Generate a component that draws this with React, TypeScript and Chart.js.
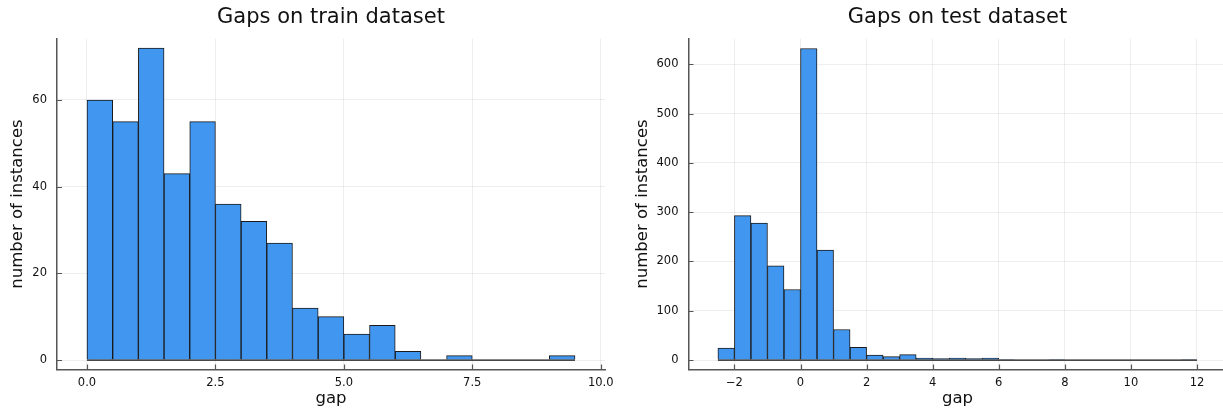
import React, { useEffect, useRef } from "react";
import { Chart, registerables } from "chart.js";

Chart.register(...registerables);

// ---------- data ----------
const binWidth = 0.5;

const trainBinStarts = [0, 0.5, 1, 1.5, 2, 2.5, 3, 3.5, 4, 4.5, 5, 5.5, 6, 6.5, 7, 7.5, 8, 8.5, 9];
const trainCounts = [60, 55, 72, 43, 55, 36, 32, 27, 12, 10, 6, 8, 2, 0, 1, 0, 0, 0, 1];
const trainXTicks = [0, 2.5, 5, 7.5, 10];
const trainXTickLabels = ["0.0", "2.5", "5.0", "7.5", "10.0"];
const trainYTicks = [0, 20, 40, 60];
const trainYTickLabels = ["0", "20", "40", "60"];

const testBinStarts = [
  -2.5, -2, -1.5, -1, -0.5, 0, 0.5, 1, 1.5, 2, 2.5, 3, 3.5, 4, 4.5, 5, 5.5, 6, 6.5, 7, 7.5, 8, 8.5, 9, 9.5,
  10, 10.5, 11, 11.5,
];
const testCounts = [
  24, 293, 278, 191, 143, 632, 223, 62, 26, 10, 7, 11, 4, 3, 4, 3, 4, 1, 0, 0, 1, 0, 0, 0, 0, 0, 0, 0, 1,
];
const testXTicks = [-2, 0, 2, 4, 6, 8, 10, 12];
const testXTickLabels = ["\u22122", "0", "2", "4", "6", "8", "10", "12"];
const testYTicks = [0, 100, 200, 300, 400, 500, 600];
const testYTickLabels = ["0", "100", "200", "300", "400", "500", "600"];

// ---------- style ----------
const FONT = '"DejaVu Sans", "Liberation Sans", sans-serif';
const BAR_COLOR = "rgb(65,150,240)";
const BAR_EDGE = "#1a1a1a";
const AXIS_COLOR = "#555555";
const GRID_COLOR = "rgba(0,0,0,0.065)";
const TEXT_COLOR = "#111111";

const decorPlugin = {
  id: "decor",
  afterDraw(chart: any, _args: any, opts: any) {
    const { ctx, chartArea } = chart;
    const xs = chart.scales.x;
    const ys = chart.scales.y;
    ctx.save();
    // inward tick marks
    ctx.strokeStyle = AXIS_COLOR;
    ctx.lineWidth = 1.2;
    ctx.beginPath();
    (opts.xTicks as number[]).forEach((v) => {
      const px = Math.round(xs.getPixelForValue(v)) + 0.5;
      ctx.moveTo(px, chartArea.bottom);
      ctx.lineTo(px, chartArea.bottom - 5);
    });
    (opts.yTicks as number[]).forEach((v) => {
      const py = Math.round(ys.getPixelForValue(v)) + 0.5;
      ctx.moveTo(chartArea.left, py);
      ctx.lineTo(chartArea.left + 5, py);
    });
    ctx.stroke();

    ctx.fillStyle = TEXT_COLOR;
    // title
    ctx.font = `21px ${FONT}`;
    ctx.textAlign = "center";
    ctx.textBaseline = "middle";
    const cx = (chartArea.left + chartArea.right) / 2;
    ctx.fillText(opts.title, cx, 18);
    // x title
    ctx.font = `16.5px ${FONT}`;
    ctx.textBaseline = "alphabetic";
    ctx.fillText(opts.xTitle, cx, 403);
    // y title
    ctx.translate(opts.yTitleX, (chartArea.top + chartArea.bottom) / 2);
    ctx.rotate(-Math.PI / 2);
    ctx.fillText(opts.yTitle, 0, 0);
    ctx.restore();
  },
};

type HistCfg = {
  left: number;
  canvasWidth: number;
  yAxisWidth: number;
  padRight: number;
  starts: number[];
  counts: number[];
  xMin: number;
  xMax: number;
  yMin: number;
  yMax: number;
  xTicks: number[];
  xTickLabels: string[];
  yTicks: number[];
  yTickLabels: string[];
  title: string;
  xTitle: string;
  yTitle: string;
  yTitleX: number;
};

function buildConfig(c: HistCfg): any {
  const last = c.starts.length - 1;
  return {
    type: "bar",
    data: {
      datasets: [
        {
          type: "line",
          data: [
            { x: c.starts[0], y: 0 },
            { x: c.starts[last] + binWidth, y: 0 },
          ],
          borderColor: "#111",
          borderWidth: 1.2,
          pointRadius: 0,
          order: 0,
        },
        {
          type: "bar",
          data: c.starts.map((s, i) => ({ x: s + binWidth / 2, y: c.counts[i] })),
          backgroundColor: BAR_COLOR,
          borderColor: BAR_EDGE,
          borderWidth: 1,
          borderSkipped: "start",
          barPercentage: 1,
          categoryPercentage: 1,
          order: 1,
        },
      ],
    },
    options: {
      animation: false,
      responsive: false,
      devicePixelRatio: 1,
      layout: { padding: { top: 38.6, left: 0, right: c.padRight, bottom: 0 } },
      plugins: {
        legend: { display: false },
        tooltip: { enabled: false },
        title: { display: false },
        decor: {
          xTicks: c.xTicks,
          yTicks: c.yTicks,
          title: c.title,
          xTitle: c.xTitle,
          yTitle: c.yTitle,
          yTitleX: c.yTitleX,
        },
      },
      scales: {
        x: {
          type: "linear",
          min: c.xMin,
          max: c.xMax,
          offset: false,
          grid: { color: GRID_COLOR, lineWidth: 1, drawTicks: false, offset: false },
          border: { display: true, color: AXIS_COLOR, width: 1.5 },
          ticks: {
            padding: 6.5,
            color: TEXT_COLOR,
            font: { family: FONT, size: 11.5 },
            maxRotation: 0,
            autoSkip: false,
            callback: (_v: any, i: number) => c.xTickLabels[i],
          },
          afterBuildTicks: (s: any) => {
            s.ticks = c.xTicks.map((v) => ({ value: v }));
          },
          afterFit: (s: any) => {
            s.height = 411 - 369.4;
          },
        },
        y: {
          type: "linear",
          min: c.yMin,
          max: c.yMax,
          grid: { color: GRID_COLOR, lineWidth: 1, drawTicks: false },
          border: { display: true, color: AXIS_COLOR, width: 1.5 },
          ticks: {
            padding: 10,
            color: TEXT_COLOR,
            font: { family: FONT, size: 11.5 },
            autoSkip: false,
            callback: (_v: any, i: number) => c.yTickLabels[i],
          },
          afterBuildTicks: (s: any) => {
            s.ticks = c.yTicks.map((v) => ({ value: v }));
          },
          afterFit: (s: any) => {
            s.width = c.yAxisWidth;
          },
        },
      },
    },
    plugins: [decorPlugin],
  };
}

function Histogram({ cfg }: { cfg: HistCfg }) {
  const ref = useRef<HTMLCanvasElement>(null);
  useEffect(() => {
    const chart = new Chart(ref.current as HTMLCanvasElement, buildConfig(cfg));
    return () => chart.destroy();
  }, []);
  return (
    <canvas
      ref={ref}
      width={cfg.canvasWidth}
      height={411}
      style={{ position: "absolute", left: cfg.left, top: 0, width: cfg.canvasWidth, height: 411 }}
    />
  );
}

const trainCfg: HistCfg = {
  left: 0,
  canvasWidth: 640,
  yAxisWidth: 57,
  padRight: 35,
  starts: trainBinStarts,
  counts: trainCounts,
  xMin: -0.584,
  xMax: 10.084,
  yMin: -2.16,
  yMax: 74.16,
  xTicks: trainXTicks,
  xTickLabels: trainXTickLabels,
  yTicks: trainYTicks,
  yTickLabels: trainYTickLabels,
  title: "Gaps on train dataset",
  xTitle: "gap",
  yTitle: "number of instances",
  yTitleX: 22,
};

const testCfg: HistCfg = {
  left: 611,
  canvasWidth: 625,
  yAxisWidth: 77.5,
  padRight: 9.6,
  starts: testBinStarts,
  counts: testCounts,
  xMin: -3.39,
  xMax: 12.89,
  yMin: -19,
  yMax: 652,
  xTicks: testXTicks,
  xTickLabels: testXTickLabels,
  yTicks: testYTicks,
  yTickLabels: testYTickLabels,
  title: "Gaps on test dataset",
  xTitle: "gap",
  yTitle: "number of instances",
  yTitleX: 36,
};

export default function App() {
  return (
    <div
      style={{
        position: "fixed",
        left: 0,
        top: 0,
        width: 1223,
        height: 411,
        overflow: "hidden",
        background: "#ffffff",
      }}
    >
      <Histogram cfg={trainCfg} />
      <Histogram cfg={testCfg} />
    </div>
  );
}
